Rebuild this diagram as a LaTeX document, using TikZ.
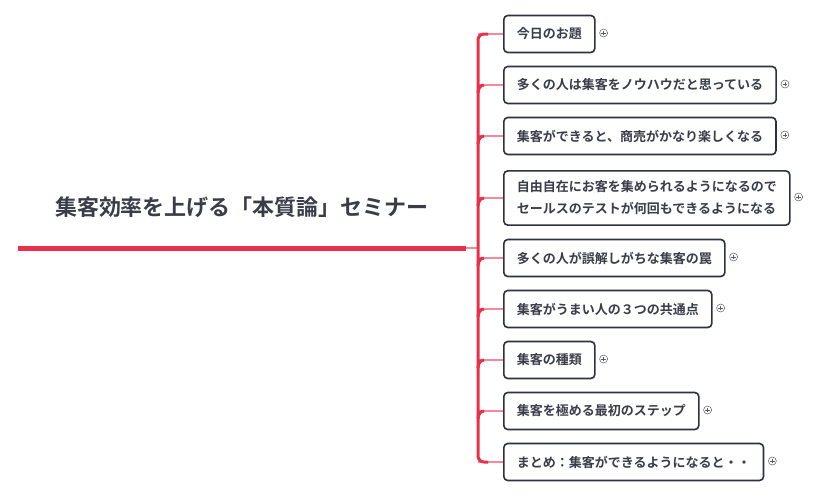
\documentclass[tikz,border=0pt]{standalone}
\usepackage{fontspec}
\newfontfamily\cjk{Noto Sans CJK JP}[BoldFont={* Bold}]
\definecolor{mred}{HTML}{E8304A}
\definecolor{mpink}{HTML}{F28A9A}
\definecolor{mdark}{HTML}{2E3140}
\definecolor{mtext}{HTML}{3A3C48}
\begin{document}
\begin{tikzpicture}[x=1pt,y=-1pt,
  topic/.style={draw=mdark,line width=1.6pt,rounded corners=4pt,fill=white,anchor=west,
    inner xsep=13pt,inner ysep=10pt,minimum height=37pt,align=left,text=mtext,font=\cjk\bfseries\fontsize{13}{22}\selectfont},
  plusic/.style={circle,draw=mdark!80,line width=0.5pt,inner sep=0pt,minimum size=8pt},
  branch/.style={mpink,line width=1.3pt},
  bar/.style={mred,line width=3pt,rounded corners=6pt}]
\useasboundingbox (0,0) rectangle (820,499);
\node[font=\cjk\bfseries\fontsize{22}{26}\selectfont,text=mtext] (title) at (242,207) {集客効率を上げる「本質論」セミナー};
\coordinate (mainend) at (466,248);
\coordinate (barpt) at (478,248);
\draw[mred,line width=5pt] (18,248) -- (mainend);
\draw[branch] (mainend) -- (barpt);
\foreach \i/\y/\t in {1/34/{今日のお題},2/85/{多くの人は集客をノウハウだと思っている},3/136/{集客ができると、商売がかなり楽しくなる},
  4/198/{自由自在にお客を集められるようになるので\\セールスのテストが何回もできるようになる},5/258/{多くの人が誤解しがちな集客の罠},
  6/309/{集客がうまい人の３つの共通点},7/360/{集客の種類},8/411/{集客を極める最初のステップ},9/462/{まとめ：集客ができるようになると・・}}{
  \node[topic] (n\i) at (503,\y) {\t};
  \coordinate (b\i) at (478,\y);
  \draw[branch] (b\i) -- (n\i.west);
  \node[plusic] (p\i) at ([xshift=8pt,yshift=1pt]n\i.east) {};
  \draw[mdark!80,line width=0.5pt] ([xshift=-2.3pt]p\i.center) -- ([xshift=2.3pt]p\i.center)
     ([yshift=-2.3pt]p\i.center) -- ([yshift=2.3pt]p\i.center);
}
\foreach \i in {2,3,4,5,6,7,8}{
  \draw[mred,line width=3pt] ([yshift=-8pt]b\i) to[out=90,in=180] ([xshift=6pt]b\i);
}
\draw[bar] ([xshift=10pt]b1) -- (b1) -- (b9) -- ([xshift=10pt]b9);
\end{tikzpicture}
\end{document}
